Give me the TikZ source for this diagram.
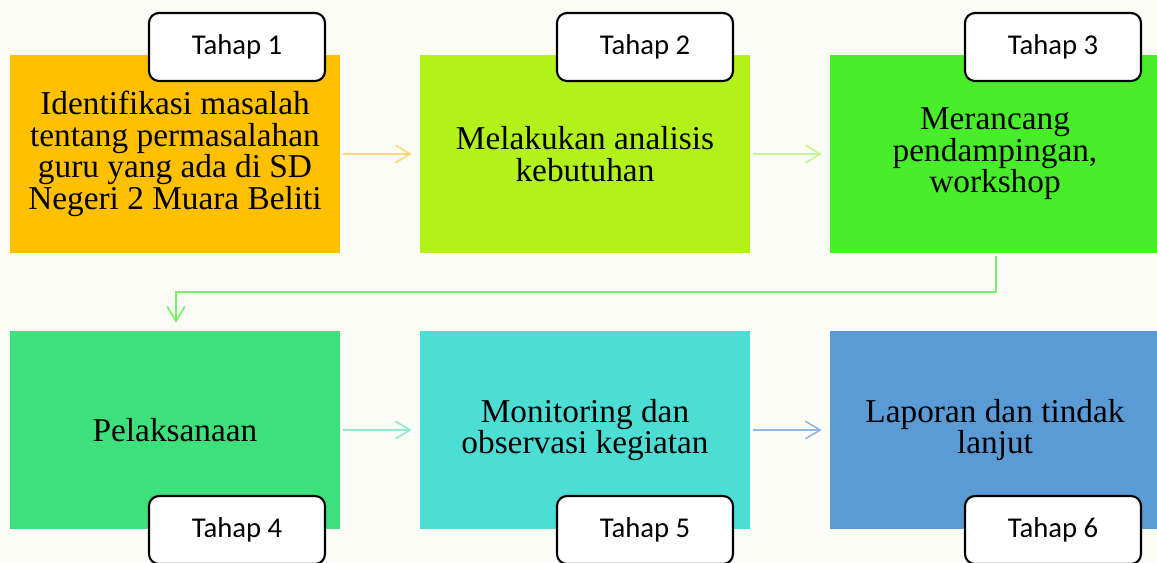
\documentclass[tikz,border=0pt]{standalone}
\usepackage{fontspec}
\setmainfont{Liberation Serif}
\newfontfamily\calib{Carlito}
\usetikzlibrary{arrows.meta}
\definecolor{bg}{HTML}{FBFCF5}
\definecolor{cA}{HTML}{FFC000}
\definecolor{cB}{HTML}{B2F21A}
\definecolor{cC}{HTML}{48EE2A}
\definecolor{cD}{HTML}{3EE07C}
\definecolor{cE}{HTML}{4CDED4}
\definecolor{cF}{HTML}{5B9BD5}
\definecolor{aA}{HTML}{FFD878}
\definecolor{aB}{HTML}{C8F48C}
\definecolor{aC}{HTML}{78EE6A}
\definecolor{aD}{HTML}{90EAD0}
\definecolor{aE}{HTML}{90B8E6}
\tikzset{
  stagebox/.style={minimum width=330*0.75pt, minimum height=198*0.75pt, inner sep=0pt, font=\fontsize{25}{23.6}\selectfont, align=center},
  tagbox/.style={draw=black, line width=1.6pt, fill=white, rounded corners=7.5pt, minimum width=176*0.75pt, minimum height=68*0.75pt, inner sep=0pt, font=\calib\fontsize{21.5}{24}\selectfont},
  flow/.style={line width=1.2pt, -{Straight Barb[length=11pt,width=13pt,line width=1.2pt]}}
}
\begin{document}
\begin{tikzpicture}[x=0.75pt,y=-0.75pt]
\fill[bg] (0,0) rectangle (1157,562);
\useasboundingbox (0,0) rectangle (1157,562);
\begin{scope}
\clip (0,0) rectangle (1157,562);
% stage boxes
\node[stagebox, fill=cA] (s1) at (175,154) {Identifikasi masalah\\tentang permasalahan\\guru yang ada di SD\\Negeri 2 Muara Beliti};
\node[stagebox, fill=cB] (s2) at (585,154) {Melakukan analisis\\kebutuhan};
\node[stagebox, fill=cC] (s3) at (995,154) {Merancang\\pendampingan,\\workshop};
\node[stagebox, fill=cD] (s4) at (175,430) {Pelaksanaan};
\node[stagebox, fill=cE] (s5) at (585,430) {Monitoring dan\\observasi kegiatan};
\node[stagebox, fill=cF] (s6) at (995,430) {Laporan dan tindak\\lanjut};
% tags
\node[tagbox] (t1) at (237,47) {Tahap 1};
\node[tagbox] (t2) at (645,47) {Tahap 2};
\node[tagbox] (t3) at (1053,47) {Tahap 3};
\node[tagbox] (t4) at (237,530) {Tahap 4};
\node[tagbox] (t5) at (645,530) {Tahap 5};
\node[tagbox] (t6) at (1053,530) {Tahap 6};
% connectors
\draw[flow, aA] ([xshift=2pt]s1.east) -- ([xshift=-6pt]s2.west);
\draw[flow, aB] ([xshift=2pt]s2.east) -- ([xshift=-6pt]s3.west);
\coordinate (k1) at (996,292);
\coordinate (k2) at (176,292);
\draw[flow, aC] ([yshift=-2pt]s3.south -| k1) -- (k1) -- (k2) -- ([yshift=6pt]s4.north -| k2);
\draw[flow, aD] ([xshift=2pt]s4.east) -- ([xshift=-6pt]s5.west);
\draw[flow, aE] ([xshift=2pt]s5.east) -- ([xshift=-6pt]s6.west);
\end{scope}
\end{tikzpicture}
\end{document}
